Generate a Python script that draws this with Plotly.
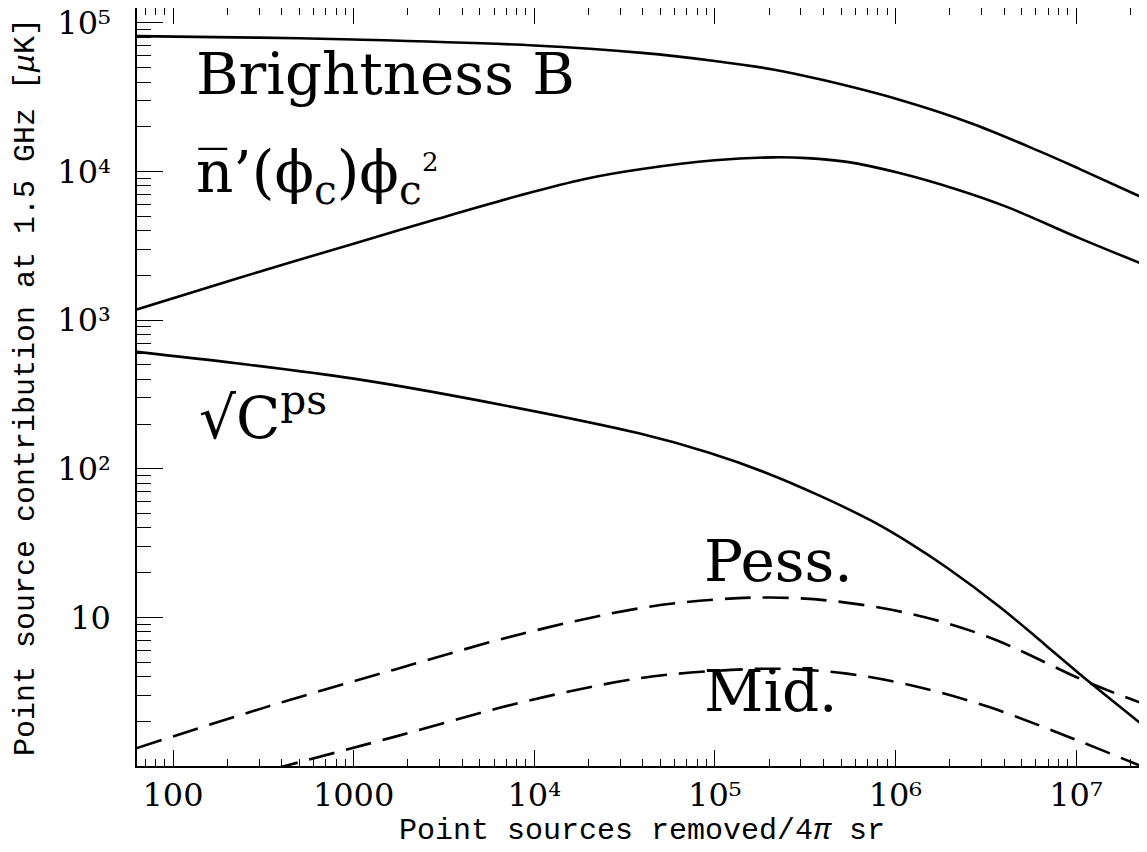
import plotly.graph_objects as go

# ---- data ----
bright_x = [63, 300, 1000, 1.0e4, 3.95e4, 1.0e5, 2.1e5, 3.98e5, 1.04e6, 2.69e6, 6.3e6, 1.05e7, 2.47e7]
bright_y = [81400, 79500, 77300, 70500, 62800, 55400, 48600, 41200, 30500, 20900, 13650, 10380, 6470]

nphi_x = [63, 224, 1000, 2900, 1.0e4, 2.0e4, 3.95e4, 1.0e5, 2.1e5, 3.24e5, 5.4e5, 1.04e6, 2.19e6, 4.14e6, 1.05e7, 2.47e7]
nphi_y = [1180, 1900, 3270, 4790, 7330, 9020, 10400, 11900, 12450, 12300, 11600, 9800, 7570, 5780, 3550, 2320]

cps_x = [63, 224, 1000, 4.5e3, 3.8e4, 9.3e4, 1.9e5, 3.8e5, 7.35e5, 1.2e6, 1.95e6, 3.8e6, 6.76e6, 1.2e7, 2.47e7]
cps_y = [612, 513, 404, 294, 173, 128, 94.4, 65.9, 44.7, 31.6, 21.4, 11.7, 6.53, 3.63, 1.79]

pess_x = [63, 324, 1680, 8.7e3, 3.8e4, 1.02e5, 2.04e5, 4.47e5, 1.2e6, 3.24e6, 1.2e7, 2.47e7]
pess_y = [1.32, 2.48, 4.45, 7.80, 11.5, 13.2, 13.6, 12.9, 10.6, 7.41, 3.60, 2.57]

mid_x = [355, 1680, 8.7e3, 3.8e4, 1.02e5, 2.29e5, 5.25e5, 1.2e6, 3.24e6, 1.0e7, 2.29e7, 2.47e7]
mid_y = [0.95, 1.57, 2.70, 3.89, 4.37, 4.51, 4.20, 3.51, 2.51, 1.50, 1.0, 0.964]

x_tickvals = [100, 1000, 1e4, 1e5, 1e6, 1e7]
x_ticktext = ["100", "1000", "10\u2074", "10\u2075", "10\u2076", "10\u2077"]
y_tickvals = [10, 100, 1000, 1e4, 1e5]
y_ticktext = ["10", "10\u00b2", "10\u00b3", "10\u2074", "10\u2075"]

x_minor = [m * 10 ** k for k in range(1, 8) for m in range(2, 10)]
y_minor = [m * 10 ** k for k in range(0, 5) for m in range(2, 10)]

# ---- figure ----
fig = go.Figure()
solid = dict(color="black", width=2.6, shape="spline", smoothing=1.0)
dashed = dict(color="black", width=2.6, dash="26px,12px", shape="spline", smoothing=1.0)
fig.add_trace(go.Scatter(x=bright_x, y=bright_y, mode="lines", line=solid, name="Brightness B"))
fig.add_trace(go.Scatter(x=nphi_x, y=nphi_y, mode="lines", line=solid, name="n'(phi_c)phi_c^2"))
fig.add_trace(go.Scatter(x=cps_x, y=cps_y, mode="lines", line=solid, name="sqrt C^ps"))
fig.add_trace(go.Scatter(x=pess_x, y=pess_y, mode="lines", line=dashed, name="Pess."))
fig.add_trace(go.Scatter(x=mid_x, y=mid_y, mode="lines", line=dashed, name="Mid."))

tickfont = dict(family="DejaVu Serif", size=32, color="black")
titlefont = dict(family="Liberation Mono", size=30, color="black")

# the page body adds an 8px offset, so the figure is sized/margined to compensate
fig.update_layout(
    width=1139, height=844,
    margin=dict(l=129, r=0, t=0, b=86, autoexpand=False),
    paper_bgcolor="white", plot_bgcolor="white",
    showlegend=False,
    xaxis=dict(
        type="log", range=[1.8006, 7.393], automargin=False,
        showline=True, linecolor="black", linewidth=1.5, mirror="ticks",
        ticks="inside", ticklen=16, tickwidth=1.3, tickcolor="black",
        tickvals=x_tickvals, ticktext=x_ticktext, tickfont=tickfont,
        ticklabelstandoff=0, ticklabeloverflow="allow",
        minor=dict(ticks="inside", ticklen=7, tickwidth=1.3, tickcolor="black", tickvals=x_minor, showgrid=False),
        showgrid=False, zeroline=False,
        title=dict(text="Point sources removed/4<i>π</i> sr", font=titlefont, standoff=0),
    ),
    yaxis=dict(
        type="log", range=[0.0, 5.1], automargin=False,
        showline=True, linecolor="black", linewidth=1.5, mirror=False,
        ticks="inside", ticklen=26, tickwidth=1.3, tickcolor="black",
        tickvals=y_tickvals, ticktext=y_ticktext, tickfont=tickfont,
        ticklabelstandoff=18, ticklabeloverflow="allow",
        minor=dict(ticks="inside", ticklen=14, tickwidth=1.3, tickcolor="black", tickvals=y_minor, showgrid=False),
        showgrid=False, zeroline=False,
        title=dict(text="Point source contribution at 1.5 GHz [<i>μ</i>K]", font=titlefont, standoff=14),
    ),
    yaxis2=dict(
        type="log", range=[0.0, 5.1], overlaying="y", side="right", anchor="x", automargin=False,
        showline=True, linecolor="black", linewidth=1.5,
        ticks="inside", ticklen=21, tickwidth=1.3, tickcolor="black",
        tickvals=y_tickvals, showticklabels=False,
        minor=dict(ticks="inside", ticklen=8, tickwidth=1.3, tickcolor="black", tickvals=y_minor, showgrid=False),
        showgrid=False, zeroline=False,
    ),
)

labfont = dict(family="DejaVu Serif", size=58, color="black")
ann = [
    dict(text="Brightness B", x=0.0564, y=0.913),
    dict(text="n\u0305\u2019(\u03d5<sub>c</sub>)\u03d5<sub>c</sub>", x=0.0564, y=0.778),
    dict(text="2", x=0.280, y=0.797, font=dict(family="DejaVu Serif", size=26, color="black")),
    dict(text="\u221aC<sup>ps</sup>", x=0.0594, y=0.465),
    dict(text="Pess.", x=0.559, y=0.270),
    dict(text="Mid.", x=0.559, y=0.0996),
]
for a in ann:
    a.setdefault("font", labfont)
    fig.add_annotation(xref="paper", yref="paper", xanchor="left", yanchor="middle",
                       showarrow=False, **a)

fig.write_html("out.html")
